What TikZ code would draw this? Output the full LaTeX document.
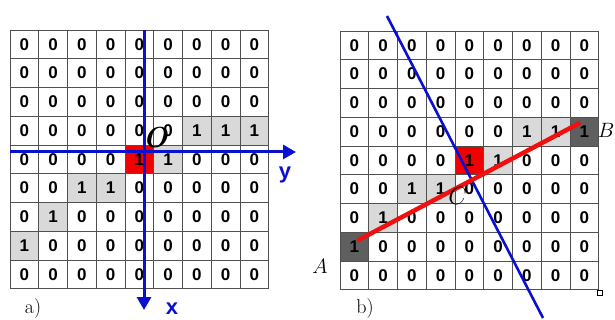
\documentclass[tikz,border=0pt]{standalone}
\usepackage{fontspec}
\newfontfamily\cellfont{Liberation Sans}
\usetikzlibrary{arrows.meta,calc}

\definecolor{gridline}{HTML}{505050}
\definecolor{lightcell}{HTML}{D9D9D9}
\definecolor{darkcell}{HTML}{5F5F5F}
\definecolor{redcell}{HTML}{F20000}
\definecolor{axisblue}{HTML}{0A10D0}
\definecolor{segred}{HTML}{F01010}

\tikzset{
  cell/.style={draw=gridline, line width=0.8pt, minimum size=28.75pt,
    inner sep=0pt, outer sep=0pt,
    font=\cellfont\bfseries\fontsize{17}{17}\selectfont},
  c0/.style={fill=white},
  c1/.style={fill=lightcell},
  c2/.style={fill=redcell},
  axis/.style={draw=axisblue, line width=3pt,
    -{Triangle[length=13pt,width=14pt]}},
  cut/.style={draw=axisblue, line width=2.6pt},
  seg/.style={draw=segred, line width=4.5pt},
  lbl/.style={inner sep=0pt, font=\fontsize{21}{21}\selectfont},
}

\begin{document}
\begin{tikzpicture}[x=1pt,y=-1pt]

% ---------- Parameter ----------
\def\cs{28.75}
% 0 = leer, 1 = grau, 2 = rot, 3 = Endpunkt
\def\gridrows{
  {0,0,0,0,0,0,0,0,0},
  {0,0,0,0,0,0,0,0,0},
  {0,0,0,0,0,0,0,0,0},
  {0,0,0,0,0,0,1,1,3},
  {0,0,0,0,2,1,0,0,0},
  {0,0,1,1,0,0,0,0,0},
  {0,1,0,0,0,0,0,0,0},
  {3,0,0,0,0,0,0,0,0},
  {0,0,0,0,0,0,0,0,0}}

\useasboundingbox (0,0) rectangle (615,320);

% ===================
% beide Gitter (links: a, rechts: b)
% ===================
\foreach \p/\xo/\yo/\endfill in {L/10/30/lightcell, R/340/31/darkcell}{
  \tikzset{c3/.style={fill=\endfill}}
  \foreach \row [count=\j from 0] in \gridrows{
    \foreach \v [count=\i from 0] in \row
      \node[cell, c\v] (\p-\j-\i) at ({\xo+(\i+0.5)*\cs},{\yo+(\j+0.5)*\cs})
        {\ifnum\v=0 0\else 1\fi};
  }
}

% ===================
% links: Achsen
% ===================
\coordinate (O) at (144,152);
\coordinate (xtip) at (144,310);
\coordinate (ytip) at (296,152);
\draw[axis] (O |- L-0-4.north) -- (xtip);
\draw[axis] (O -| L-4-0.west) -- (ytip);

\node[lbl, font=\fontsize{29}{29}\selectfont\bfseries\itshape] (Olbl) at (155,138) {O};
\node[lbl, text=axisblue, font=\cellfont\bfseries\fontsize{22}{22}\selectfont] (ylbl) at (285,175) {y};
\node[lbl, text=axisblue, font=\cellfont\bfseries\fontsize{22}{22}\selectfont] (xlbl) at (172,309) {x};
\node[lbl, font=\fontsize{20}{20}\selectfont] (alab) at (33,309) {a)};

% ===================
% rechts: Strecke AB und Senkrechte
% ===================
\coordinate (n1) at (387,16);
\coordinate (n2) at (543,318);
\draw[cut] (n1) -- (n2);
\draw[seg] ($(R-7-0.center)+(3,-6)$) -- ($(R-3-8.center)+(-4,-9)$);

\node[lbl] (A) at (320,266) {$A$};
\node[lbl] (B) at (606,130) {$B$};
\node[lbl, font=\fontsize{25}{25}\selectfont] (C) at (458,196) {$C$};
\node[lbl, font=\fontsize{20}{20}\selectfont] (blab) at (365,309) {b)};
\node[draw, line width=0.6pt, minimum size=5pt, inner sep=0pt] (mark) at (600,293) {};

\end{tikzpicture}
\end{document}
